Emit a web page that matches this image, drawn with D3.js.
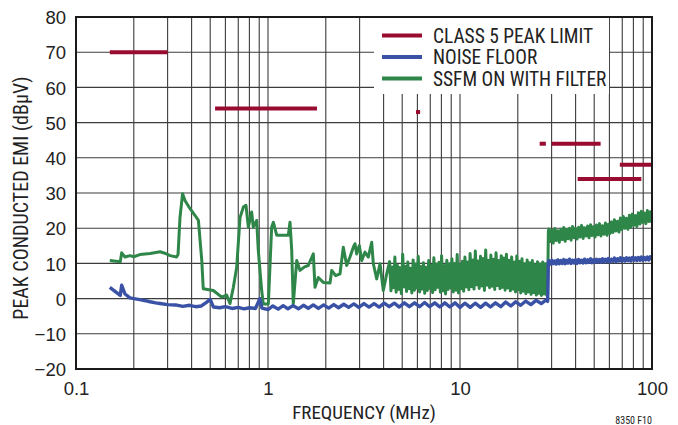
<!DOCTYPE html>
<html>
<head>
<meta charset="utf-8">
<script src="https://cdn.jsdelivr.net/npm/d3@7/dist/d3.min.js"></script>
<style>
  html, body { margin: 0; padding: 0; background: #fff; }
  svg { display: block; }
  text { font-family: "Liberation Sans Narrow", "Arial Narrow", "Roboto Condensed", "Liberation Sans", sans-serif; fill: #222; }
</style>
</head>
<body>
<svg id="chart" width="678" height="425"></svg>
<script>
// ---------------- DATA ----------------
const xTickValues = [0.1, 1, 10, 100];
const xTickLabels = ["0.1", "1", "10", "100"];
const yTickValues = [-20, -10, 0, 10, 20, 30, 40, 50, 60, 70, 80];
const yTickLabels = ["\u221220", "\u221210", "0", "10", "20", "30", "40", "50", "60", "70", "80"];

const seriesNames = ["CLASS 5 PEAK LIMIT", "NOISE FLOOR", "SSFM ON WITH FILTER"];

// Class 5 peak limit segments (MHz start, MHz end, dBµV)
const limitStart = [0.15, 0.53, 5.9, 26, 30, 41, 68];
const limitEnd   = [0.30, 1.8, 6.2, 28, 54, 88, 100];
const limitLevel = [70, 54, 53, 44, 44, 34, 38];

// SSFM ON WITH FILTER – low band trace (MHz, dBµV)
const greenLowFreq = [0.150, 0.170, 0.173, 0.180, 0.191, 0.200, 0.215, 0.243, 0.274, 0.290, 0.309, 0.334, 0.340,
  0.348, 0.359, 0.370, 0.392, 0.417, 0.434, 0.452, 0.460, 0.519, 0.574, 0.609, 0.634, 0.660, 0.687, 0.715,
  0.744, 0.768, 0.790, 0.822, 0.838, 0.873, 0.890, 0.927, 0.945, 1.004, 1.045, 1.066, 1.110, 1.276, 1.302,
  1.329, 1.354, 1.411, 1.468, 1.550, 1.621, 1.722, 1.757, 1.828, 1.941, 2.103, 2.147, 2.250, 2.371, 2.467,
  2.570, 2.673, 2.782, 2.839, 2.897, 2.989, 3.076, 3.200, 3.330, 3.469, 3.536, 3.683, 3.831, 3.986, 4.152];
const greenLowVal = [10.8, 10.5, 13.0, 11.8, 12.2, 11.9, 12.5, 12.8, 13.3, 12.9, 12.2, 11.8, 12.5,
  23.0, 29.8, 27.8, 25.6, 23.6, 22.2, 10.8, 2.8, 2.3, 0.4, 1.0, -1.4, 3.2, 8.9, 23.0,
  26.0, 26.5, 20.3, 24.6, 20.3, 22.2, 13.7, 2.3, -1.5, -1.5, 20.3, 21.7, 18.0, 18.0, 21.7,
  13.7, -1.5, 10.8, 8.0, 9.0, 9.4, 12.7, 3.2, 6.0, 4.6, 4.4, 8.0, 6.5, 7.0, 14.6,
  9.4, 11.8, 14.6, 15.6, 12.7, 15.1, 10.8, 13.2, 11.8, 16.0, 9.9, 5.6, 9.9, 2.3, 7.0];

// SSFM ON WITH FILTER – dense sweep 4.3 MHz to 28 MHz (MHz, dBµV)
const greenMidFreq = [4.30, 4.37, 4.44, 4.51, 4.58, 4.65, 4.72, 4.80, 4.87, 4.95,
  5.03, 5.11, 5.19, 5.27, 5.35, 5.44, 5.52, 5.61, 5.70, 5.79,
  5.88, 5.97, 6.06, 6.16, 6.26, 6.35, 6.45, 6.55, 6.66, 6.76,
  6.87, 6.98, 7.09, 7.20, 7.31, 7.42, 7.54, 7.66, 7.78, 7.90,
  8.02, 8.15, 8.28, 8.41, 8.54, 8.67, 8.81, 8.94, 9.08, 9.23,
  9.37, 9.52, 9.67, 9.82, 9.97, 10.13, 10.29, 10.45, 10.61, 10.78,
  10.95, 11.12, 11.29, 11.47, 11.65, 11.83, 12.02, 12.21, 12.40, 12.59,
  12.79, 12.99, 13.19, 13.40, 13.61, 13.82, 14.04, 14.26, 14.48, 14.71,
  14.94, 15.17, 15.41, 15.65, 15.90, 16.15, 16.40, 16.66, 16.92, 17.18,
  17.45, 17.73, 18.00, 18.29, 18.57, 18.86, 19.16, 19.46, 19.76, 20.07,
  20.39, 20.71, 21.03, 21.36, 21.70, 22.04, 22.38, 22.73, 23.09, 23.45,
  23.82, 24.19, 24.57, 24.96, 25.35, 25.75, 26.15, 26.56, 26.97, 27.40,
  27.83, 28.26, 28.60, 28.85];
const greenMidVal = [10.5, 2.2, 9.0, 3.1, 11.8, 1.8, 9.5, 2.6, 8.8, 1.4,
  12.6, 3.3, 9.2, 2.0, 10.4, 2.8, 8.6, 1.6, 11.0, 2.4,
  9.8, 3.0, 12.0, 1.9, 9.1, 2.7, 10.2, 1.5, 8.9, 2.3,
  10.8, 2.9, 9.5, 1.7, 11.6, 2.5, 9.8, 3.2, 10.3, 1.8,
  12.2, 2.2, 9.4, 1.3, 10.9, 2.6, 9.9, 3.0, 11.3, 1.9,
  10.0, 2.4, 12.5, 1.6, 9.7, 2.8, 10.6, 2.1, 11.8, 3.3,
  10.4, 2.5, 12.8, 3.4, 11.0, 2.7, 13.5, 3.9, 10.7, 2.9,
  12.0, 3.6, 11.4, 2.3, 13.8, 3.8, 10.9, 3.1, 12.4, 3.5,
  11.2, 2.6, 13.0, 3.7, 10.8, 2.8, 12.2, 3.2, 11.5, 2.4,
  12.6, 3.0, 10.9, 2.2, 11.8, 2.7, 10.4, 1.9, 12.1, 2.5,
  10.6, 1.6, 11.3, 2.1, 9.9, 1.4, 11.0, 1.9, 10.2, 1.2,
  10.8, 1.7, 9.6, 1.0, 10.5, 1.5, 9.8, 0.9, 10.4, 1.3,
  9.9, 1.0, 1.0, 19.0];

// High band sweep 29 MHz to 100 MHz (shared frequencies)
const highFreq = [29.0, 29.5, 30.1, 30.6, 31.2, 31.7, 32.3, 32.9, 33.5, 34.1,
  34.7, 35.3, 35.9, 36.6, 37.2, 37.9, 38.6, 39.3, 40.0, 40.7,
  41.5, 42.2, 43.0, 43.8, 44.5, 45.4, 46.2, 47.0, 47.9, 48.7,
  49.6, 50.5, 51.4, 52.3, 53.3, 54.2, 55.2, 56.2, 57.2, 58.3,
  59.3, 60.4, 61.5, 62.6, 63.7, 64.9, 66.1, 67.3, 68.5, 69.7,
  71.0, 72.3, 73.6, 74.9, 76.3, 77.6, 79.0, 80.5, 81.9, 83.4,
  84.9, 86.5, 88.0, 89.6, 91.2, 92.9, 94.6, 96.3, 98.0, 99.8];
const greenHighVal = [19.8, 16.2, 19.5, 15.8, 19.9, 16.5, 19.3, 16.0, 19.7, 16.8,
  20.2, 16.3, 19.6, 17.0, 20.0, 16.6, 20.5, 17.3, 19.9, 16.9,
  20.3, 17.5, 20.8, 17.1, 20.1, 17.8, 20.6, 17.3, 21.0, 17.9,
  20.4, 17.5, 20.9, 18.1, 21.3, 17.8, 20.7, 18.3, 21.5, 18.0,
  21.1, 18.5, 21.8, 18.8, 22.4, 19.2, 22.0, 18.9, 22.9, 19.6,
  23.3, 20.0, 22.8, 19.7, 23.7, 20.3, 24.0, 20.8, 23.6, 20.5,
  24.4, 21.2, 24.8, 21.6, 24.3, 21.3, 25.0, 21.9, 24.7, 21.5];

// NOISE FLOOR
const blueLowFreq = [0.150, 0.170, 0.173, 0.180, 0.191, 0.200, 0.215, 0.230, 0.243, 0.260, 0.274, 0.300,
  0.330, 0.360, 0.390, 0.420, 0.450, 0.480, 0.500, 0.520, 0.560, 0.600, 0.650, 0.700, 0.750, 0.800,
  0.860, 0.907, 0.930, 0.965,
  1.00, 1.06, 1.13, 1.20, 1.27, 1.35, 1.44, 1.53, 1.62, 1.72,
  1.83, 1.95, 2.07, 2.20, 2.33, 2.48, 2.63, 2.80, 2.97, 3.16,
  3.36, 3.57, 3.79, 4.03, 4.28, 4.55, 4.83, 5.13, 5.45, 5.80,
  6.16, 6.54, 6.95, 7.39, 7.85, 8.34, 8.86, 9.42, 10.0, 10.6,
  11.3, 12.0, 12.8, 13.6, 14.4, 15.3, 16.3, 17.3, 18.4, 19.5,
  20.7, 22.0, 23.4, 24.9, 26.5, 28.2, 28.6, 28.85];
const blueLowVal = [3.2, 0.9, 3.8, 1.3, 0.2, 0.0, -0.3, -0.6, -0.9, -1.2, -1.4, -1.7,
  -1.8, -2.2, -1.9, -2.3, -2.1, -1.0, -0.2, -2.4, -2.6, -2.3, -2.8, -2.5, -2.9, -2.6,
  -2.8, 0.0, -2.7, -2.9,
  -3.1, -2.1, -3.0, -2.0, -2.9, -2.0, -2.9, -1.9, -2.8, -1.8,
  -2.8, -1.8, -2.7, -1.7, -2.6, -1.6, -2.5, -1.5, -2.5, -1.4,
  -2.4, -1.4, -2.4, -1.3, -2.3, -1.3, -2.4, -1.2, -2.3, -1.2,
  -2.3, -1.1, -2.3, -1.2, -2.4, -1.2, -2.4, -1.2, -2.5, -1.3,
  -2.5, -1.3, -2.5, -1.3, -2.4, -1.2, -2.3, -1.0, -2.1, -0.9,
  -1.9, -0.7, -1.7, -0.5, -1.4, -0.3, -0.8, 10.3];
const blueHighVal = [10.8, 9.8, 10.9, 9.9, 10.7, 9.8, 11.0, 9.9, 10.8, 10.0,
  11.1, 9.9, 10.9, 10.1, 11.2, 10.0, 10.9, 10.1, 11.0, 10.0,
  11.1, 10.2, 10.9, 10.1, 11.2, 10.2, 11.0, 10.3, 11.3, 10.2,
  11.0, 10.3, 11.2, 10.4, 11.1, 10.3, 11.3, 10.4, 11.2, 10.5,
  11.4, 10.4, 11.2, 10.6, 11.5, 10.5, 11.3, 10.7, 11.6, 10.6,
  11.4, 10.7, 11.6, 10.8, 11.5, 10.7, 11.7, 10.9, 11.6, 10.8,
  11.7, 10.9, 11.8, 10.9, 11.7, 11.0, 11.8, 11.0, 11.9, 11.1];

// ---------------- CHART ----------------
const colors = { limit: "#9a0b30", noise: "#3a52a5", ssfm: "#2f8649" };
const plot = { left: 76, right: 652, top: 17, bottom: 369 };

const svg = d3.select("#chart");
const x = d3.scaleLog().domain([0.1, 100]).range([plot.left, plot.right]);
const y = d3.scaleLinear().domain([-20, 80]).range([plot.bottom, plot.top]);

svg.append("defs").append("clipPath").attr("id", "clip")
  .append("rect").attr("x", plot.left).attr("y", plot.top)
  .attr("width", plot.right - plot.left).attr("height", plot.bottom - plot.top);

// grid
const grid = svg.append("g");
grid.selectAll("line.v").data(x.ticks()).join("line")
  .attr("x1", d => x(d)).attr("x2", d => x(d))
  .attr("y1", plot.top).attr("y2", plot.bottom)
  .attr("stroke", "#3c3c3c").attr("stroke-width", 1.1);
grid.selectAll("line.h").data(yTickValues).join("line")
  .attr("x1", plot.left).attr("x2", plot.right)
  .attr("y1", d => y(d)).attr("y2", d => y(d))
  .attr("stroke", "#3c3c3c").attr("stroke-width", 1.1);

// legend backdrop (covers grid)
const legend = svg.append("g");
legend.append("rect").attr("x", 374).attr("y", plot.top + 1)
  .attr("width", 235).attr("height", 76).attr("fill", "#fff");

// series
const line = d3.line().x(d => x(d[0])).y(d => y(d[1]));
const zip = (a, b) => a.map((f, i) => [f, b[i]]);

const greenData = zip(greenLowFreq, greenLowVal)
  .concat(zip(greenMidFreq, greenMidVal))
  .concat(zip(highFreq, greenHighVal));
const blueData = zip(blueLowFreq, blueLowVal).concat(zip(highFreq, blueHighVal));

const series = svg.append("g").attr("clip-path", "url(#clip)");
series.append("path").datum(greenData).attr("d", line)
  .attr("fill", "none").attr("stroke", colors.ssfm).attr("stroke-width", 3)
  .attr("stroke-linejoin", "round");
series.append("path").datum(blueData).attr("d", line)
  .attr("fill", "none").attr("stroke", colors.noise).attr("stroke-width", 3.4)
  .attr("stroke-linejoin", "round");

// limits
series.selectAll("line.limit").data(limitStart.map((s, i) => ({ s, e: limitEnd[i], v: limitLevel[i] })))
  .join("line")
  .attr("x1", d => x(d.s)).attr("x2", d => x(d.e))
  .attr("y1", d => y(d.v)).attr("y2", d => y(d.v))
  .attr("stroke", colors.limit).attr("stroke-width", 4);

// frame
svg.append("rect").attr("x", plot.left).attr("y", plot.top)
  .attr("width", plot.right - plot.left).attr("height", plot.bottom - plot.top)
  .attr("fill", "none").attr("stroke", "#1a1a1a").attr("stroke-width", 2);

// axes labels
const yAxis = d3.axisLeft(y).tickValues(yTickValues).tickSize(0).tickPadding(10)
  .tickFormat((d, i) => yTickLabels[i]);
const gy = svg.append("g").attr("transform", `translate(${plot.left},0)`).call(yAxis);
gy.select(".domain").remove();
gy.selectAll("text").attr("font-size", 18.5).attr("dy", "0.36em")
  .style("font-family", '"Liberation Sans Narrow", "Arial Narrow", sans-serif').attr("fill", "#222");

const xAxis = d3.axisBottom(x).tickValues(xTickValues).tickSize(0).tickPadding(13)
  .tickFormat((d, i) => xTickLabels[i]);
const gx = svg.append("g").attr("transform", `translate(0,${plot.bottom})`).call(xAxis);
gx.select(".domain").remove();
gx.selectAll("text").attr("font-size", 18.5)
  .style("font-family", '"Liberation Sans Narrow", "Arial Narrow", sans-serif').attr("fill", "#222");

svg.append("text").attr("x", (plot.left + plot.right) / 2).attr("y", 419)
  .attr("text-anchor", "middle").attr("font-size", 19).text("FREQUENCY (MHz)");
svg.append("text").attr("transform", `translate(28,${(plot.top + plot.bottom) / 2 + 5}) rotate(-90)`)
  .attr("text-anchor", "middle").attr("font-size", 20).text("PEAK CONDUCTED EMI (dBµV)");
svg.append("text").attr("x", 652).attr("y", 424).attr("text-anchor", "end")
  .attr("font-size", 10).text("8350 F10");

// legend entries
const legColors = [colors.limit, colors.noise, colors.ssfm];
const rows = [35.5, 57, 78.5];
seriesNames.forEach((name, i) => {
  legend.append("line").attr("x1", 382).attr("x2", 422)
    .attr("y1", rows[i]).attr("y2", rows[i])
    .attr("stroke", legColors[i]).attr("stroke-width", 4);
  legend.append("text").attr("x", 433).attr("y", rows[i] + 7)
    .attr("font-size", 19.4).text(name);
});
</script>
</body>
</html>
